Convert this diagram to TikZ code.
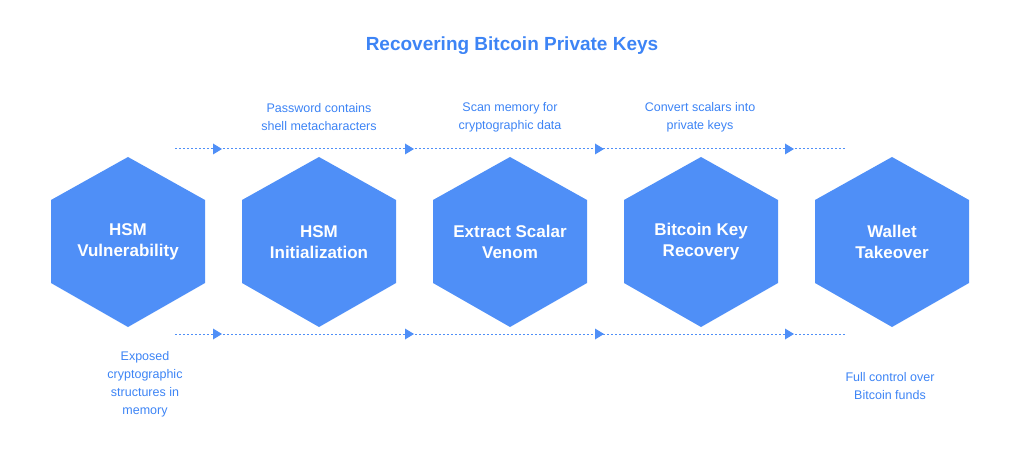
\documentclass[tikz,border=0pt]{standalone}
\usepackage{fontspec}
\setmainfont{Liberation Sans}
\usetikzlibrary{arrows.meta,decorations.markings}
\definecolor{hexb}{HTML}{4F8FF7}
\definecolor{txtb}{HTML}{3D84F5}
\begin{document}
\begin{tikzpicture}[x=1pt,y=-1pt,
  hx/.style={fill=hexb,draw=none},
  ht/.style={text=white,font=\bfseries\fontsize{17}{21}\selectfont,align=center},
  lb/.style={text=txtb,font=\fontsize{12.5}{18}\selectfont,align=center},
  dl/.style={draw=hexb,line width=1pt,dash pattern=on 2pt off 2pt},
  ar/.style={fill=hexb,draw=none}]
\useasboundingbox (0,0) rectangle (1024,454);
\node[text=txtb,font=\bfseries\fontsize{19}{23}\selectfont] (title) at (512,46) {Recovering Bitcoin Private Keys};
\foreach \i/\cx/\t in {a/128/{HSM\\Vulnerability},b/319/{HSM\\Initialization},c/510/{Extract Scalar\\Venom},d/701/{Bitcoin Key\\Recovery},e/892/{Wallet\\Takeover}}{
  \fill[hx] (\cx,157) -- (\cx+77,200) -- (\cx+77,283) -- (\cx,327) -- (\cx-77,283) -- (\cx-77,200) -- cycle;
  \node[ht] (\i) at (\cx,242) {\t};
}
\coordinate (t0) at (175,149); \coordinate (t1) at (845,149);
\coordinate (b0) at (175,334); \coordinate (b1) at (845,334);
\draw[dl] (t0) -- (t1);
\draw[dl] (b0) -- (b1);
\foreach \x in {213,405,595,785}{
  \fill[ar] (\x,143.5) -- (\x+9,149) -- (\x,154.5) -- cycle;
  \fill[ar] (\x,328.5) -- (\x+9,334) -- (\x,339.5) -- cycle;
}
\node[lb] (l1) at (319,117) {Password contains\\shell metacharacters};
\node[lb] (l2) at (510,117) {Scan memory for\\cryptographic data};
\node[lb] (l3) at (700,117) {Convert scalars into\\private keys};
\node[lb] (l4) at (145,384) {Exposed\\cryptographic\\structures in\\memory};
\node[lb] (l5) at (890,386) {Full control over\\Bitcoin funds};
\end{tikzpicture}
\end{document}
